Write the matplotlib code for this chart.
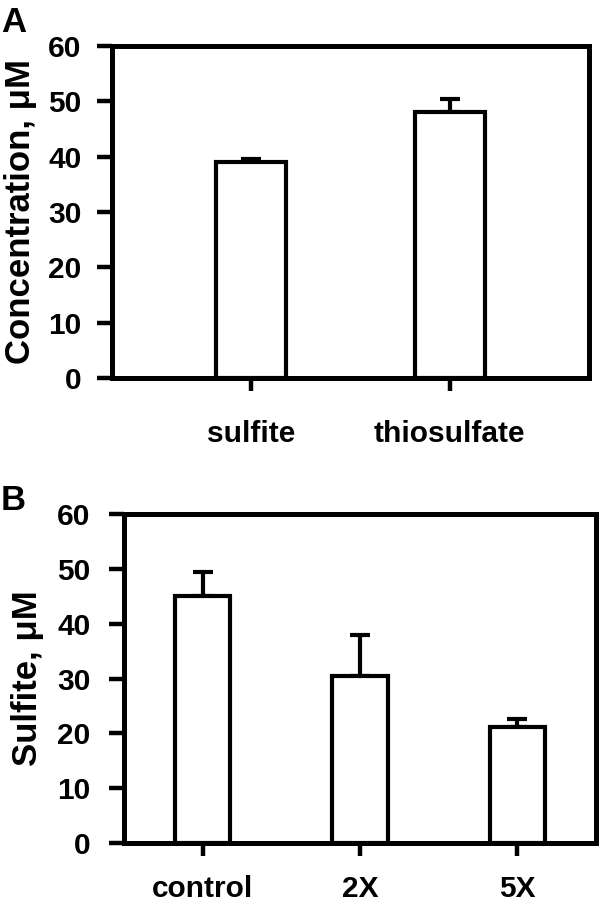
import matplotlib.pyplot as plt

plt.rcParams['font.family'] = ['Liberation Sans', 'DejaVu Sans']
plt.rcParams['font.weight'] = 'bold'

# panel A
cats_a = ['sulfite', 'thiosulfate']
vals_a = [39.0, 48.0]
err_a = [0.5, 2.5]

# panel B
cats_b = ['control', '2X', '5X']
vals_b = [45.0, 30.5, 21.2]
err_b = [4.5, 7.5, 1.5]

yticks = [0, 10, 20, 30, 40, 50, 60]

W, H = 600, 905
fig = plt.figure(figsize=(W / 100, H / 100), dpi=100)


def px_axes(left, top, right, bottom):
    return fig.add_axes([left / W, 1 - bottom / H, (right - left) / W, (bottom - top) / H])


def style_panel(ax, cats, vals, errs, xlim, ypad, xpad):
    x = range(len(cats))
    ax.bar(x, vals, width=0.35, color='white', edgecolor='black', linewidth=3.0,
           zorder=2)
    ax.errorbar(x, vals, yerr=[[0] * len(errs), errs], fmt='none', ecolor='black',
                elinewidth=3.0, capsize=7, capthick=3.0, zorder=1)
    ax.set_xlim(*xlim)
    ax.set_ylim(0, 60)
    ax.set_yticks(yticks)
    ax.set_yticklabels([str(t) for t in yticks], fontsize=21.5, fontweight='bold')
    ax.set_xticks(list(x))
    ax.set_xticklabels(cats, fontsize=21.5, fontweight='bold')
    for s in ['top', 'bottom', 'left', 'right']:
        ax.spines[s].set_linewidth(3.6)
    ax.tick_params(axis='y', direction='out', length=11, width=3.2, pad=ypad)
    ax.tick_params(axis='x', direction='out', length=9, width=3.2, pad=xpad)


ax1 = px_axes(112, 46, 589, 378)
style_panel(ax1, cats_a, vals_a, err_a, (-0.7, 1.7), 11, 21)
fig.text(21 / W, 1 - 211 / H, 'Concentration, μM', rotation=90, fontsize=25,
         fontweight='bold', ha='center', va='center')

ax2 = px_axes(124, 514, 596, 843)
style_panel(ax2, cats_b, vals_b, err_b, (-0.5, 2.5), 13, 14)
fig.text(28 / W, 1 - 678 / H, 'Sulfite, μM', rotation=90, fontsize=25,
         fontweight='bold', ha='center', va='center')

fig.text(1 / W, 1 - 22 / H, 'A', fontsize=25, fontweight='bold', va='center', ha='left')
fig.text(1 / W, 1 - 500 / H, 'B', fontsize=25, fontweight='bold', va='center', ha='left')

fig.savefig('out.png', dpi=100)
